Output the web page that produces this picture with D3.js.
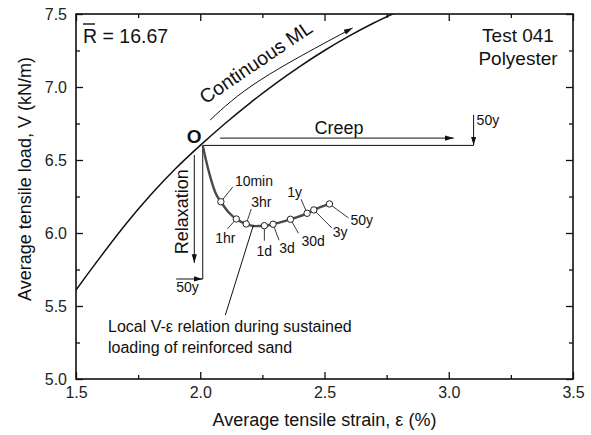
<!DOCTYPE html>
<html>
<head>
<meta charset="utf-8">
<script src="https://cdn.jsdelivr.net/npm/d3@7"></script>
<style>
body { margin: 0; background: #fff; }
svg text { font-family: "Liberation Sans", Arial, sans-serif; fill: #111; }
</style>
</head>
<body>
<svg id="chart" width="591" height="435"></svg>
<script>
// Continuous ML curve (strain %, load kN/m)
var mlStrain = [1.5, 1.6, 1.7, 1.8, 1.9, 2.0, 2.1, 2.2, 2.3, 2.4, 2.5, 2.6, 2.7, 2.8];
var mlLoad   = [5.61, 5.84, 6.06, 6.26, 6.44, 6.60, 6.75, 6.89, 7.02, 7.14, 7.25, 7.35, 7.44, 7.52];

// point O where the sustained loading starts
var startStrain = 2.01;
var startLoad = 6.60;

// local V-e relation during sustained loading
var localStrain = [2.01, 2.023, 2.040, 2.062, 2.083, 2.113, 2.145, 2.185, 2.22, 2.258, 2.293, 2.363, 2.43, 2.457, 2.52];
var localLoad   = [6.60, 6.50, 6.386, 6.272, 6.214, 6.144, 6.096, 6.062, 6.047, 6.050, 6.060, 6.094, 6.135, 6.158, 6.199];

// elapsed-time markers on the local curve
var timeLabels = ["10min", "1hr", "3hr", "1d", "3d", "30d", "1y", "3y", "50y"];
var timeStrain = [2.083, 2.145, 2.185, 2.258, 2.293, 2.363, 2.43, 2.457, 2.52];
var timeLoad   = [6.214, 6.096, 6.062, 6.050, 6.060, 6.094, 6.135, 6.158, 6.199];

// creep / relaxation limits after 50 years
var creepStrain50y = 3.10;
var relaxLoad50y = 5.685;

var xTicks = [1.5, 2.0, 2.5, 3.0, 3.5];
var xMinor = [1.75, 2.25, 2.75, 3.25];
var yTicks = [5.0, 5.5, 6.0, 6.5, 7.0, 7.5];
var yMinor = [5.25, 5.75, 6.25, 6.75, 7.25];

// where each time label sits relative to its marker (px)
var labelLayout = {
    "10min": { lead: [12, -15], text: [14, -16], anchor: "start" },
    "1hr":   { lead: [-9, 10],  text: [-11, 24], anchor: "middle" },
    "3hr":   { lead: [5, -15],  text: [5, -17],  anchor: "start" },
    "1d":    { lead: [0, 15],   text: [0, 30],   anchor: "middle" },
    "3d":    { lead: [6, 16],   text: [14, 29],  anchor: "middle" },
    "30d":   { lead: [8, 14],   text: [11, 27],  anchor: "start" },
    "1y":    { lead: [-6, -14], text: [-5, -16], anchor: "end" },
    "3y":    { lead: [18, 18],  text: [19, 27],  anchor: "start" },
    "50y":   { lead: [19, 14],  text: [21, 21],  anchor: "start" }
};

var plotLeft = 76, plotRight = 573, plotTop = 14, plotBottom = 379;

var svg = d3.select("#chart");

var x = d3.scaleLinear().domain([1.5, 3.5]).range([plotLeft, plotRight]);
var y = d3.scaleLinear().domain([5.0, 7.5]).range([plotBottom, plotTop]);

var defs = svg.append("defs");
defs.append("clipPath").attr("id", "plotClip")
    .append("rect")
    .attr("x", plotLeft).attr("y", plotTop)
    .attr("width", plotRight - plotLeft).attr("height", plotBottom - plotTop);

defs.append("marker")
    .attr("id", "arrow")
    .attr("viewBox", "0 -4 10 8")
    .attr("refX", 10).attr("refY", 0)
    .attr("markerUnits", "userSpaceOnUse")
    .attr("markerWidth", 9).attr("markerHeight", 7)
    .attr("orient", "auto")
    .append("path")
    .attr("d", "M0,-3L10,0L0,3Z")
    .attr("fill", "#111");

//Axes
function styleAxis(g) {
    g.select(".domain").remove();
    g.selectAll(".tick line").attr("stroke", "#111").attr("stroke-width", 1.3);
    g.selectAll("text").attr("font-size", 16).style("fill", "#222");
}
var fmt = d3.format(".1f");

svg.append("g").attr("transform", "translate(0," + plotBottom + ")")
    .call(d3.axisBottom(x).tickValues(xTicks).tickSize(-7).tickPadding(8).tickFormat(fmt))
    .call(styleAxis);
svg.append("g").attr("transform", "translate(0," + plotBottom + ")")
    .call(d3.axisBottom(x).tickValues(xMinor).tickSize(-4).tickFormat(""))
    .call(styleAxis);
svg.append("g").attr("transform", "translate(0," + plotTop + ")")
    .call(d3.axisTop(x).tickValues(xTicks).tickSize(-7).tickFormat(""))
    .call(styleAxis);
svg.append("g").attr("transform", "translate(0," + plotTop + ")")
    .call(d3.axisTop(x).tickValues(xMinor).tickSize(-4).tickFormat(""))
    .call(styleAxis);

svg.append("g").attr("transform", "translate(" + plotLeft + ",0)")
    .call(d3.axisLeft(y).tickValues(yTicks).tickSize(-7).tickPadding(9).tickFormat(fmt))
    .call(styleAxis);
svg.append("g").attr("transform", "translate(" + plotLeft + ",0)")
    .call(d3.axisLeft(y).tickValues(yMinor).tickSize(-4).tickFormat(""))
    .call(styleAxis);
svg.append("g").attr("transform", "translate(" + plotRight + ",0)")
    .call(d3.axisRight(y).tickValues(yTicks).tickSize(-7).tickFormat(""))
    .call(styleAxis);
svg.append("g").attr("transform", "translate(" + plotRight + ",0)")
    .call(d3.axisRight(y).tickValues(yMinor).tickSize(-4).tickFormat(""))
    .call(styleAxis);

svg.append("rect")
    .attr("x", plotLeft).attr("y", plotTop)
    .attr("width", plotRight - plotLeft).attr("height", plotBottom - plotTop)
    .attr("fill", "none").attr("stroke", "#111").attr("stroke-width", 1.6);

svg.append("text")
    .attr("x", (plotLeft + plotRight) / 2).attr("y", 426)
    .attr("text-anchor", "middle").attr("font-size", 18)
    .text("Average tensile strain, \u03b5 (%)");
svg.append("text")
    .attr("transform", "translate(31,179) rotate(-90)")
    .attr("text-anchor", "middle").attr("font-size", 18)
    .text("Average tensile load, V (kN/m)");

// Continuous ML curve
var line = d3.line()
    .x(function (d) { return x(d[0]); })
    .y(function (d) { return y(d[1]); });

svg.append("path")
    .datum(mlStrain.map(function (d, i) { return [d, mlLoad[i]]; }))
    .attr("clip-path", "url(#plotClip)")
    .attr("d", line.curve(d3.curveMonotoneX))
    .attr("fill", "none").attr("stroke", "#111").attr("stroke-width", 1.5);

// "Continuous ML" arrow running alongside the curve
svg.append("path")
    .datum([[2.04, 6.774], [2.242, 7.048], [2.613, 7.404]])
    .attr("d", d3.line().x(function (d) { return x(d[0]); }).y(function (d) { return y(d[1]); }).curve(d3.curveNatural))
    .attr("fill", "none").attr("stroke", "#111").attr("stroke-width", 1)
    .attr("marker-end", "url(#arrow)");
svg.append("text")
    .attr("transform", "translate(" + x(2.02) + "," + y(6.88) + ") rotate(-34)")
    .attr("font-size", 19.5)
    .text("Continuous ML");

// Creep: load held at O, strain grows
function seg(x1, y1, x2, y2, arrow) {
    var l = svg.append("line")
        .attr("x1", x(x1)).attr("y1", y(y1))
        .attr("x2", x(x2)).attr("y2", y(y2))
        .attr("stroke", "#111").attr("stroke-width", 1);
    if (arrow) l.attr("marker-end", "url(#arrow)");
    return l;
}

seg(startStrain, startLoad, creepStrain50y, startLoad, false);
seg(2.08, 6.65, 3.02, 6.65, true);
seg(creepStrain50y, 6.81, creepStrain50y, startLoad, true);
svg.append("text").attr("x", x(2.46)).attr("y", y(6.68))
    .attr("font-size", 18).text("Creep");
svg.append("text").attr("x", x(creepStrain50y) + 3).attr("y", y(6.74))
    .attr("font-size", 14).text("50y");

// Relaxation: strain held at O, load drops
seg(startStrain, startLoad, startStrain, relaxLoad50y, false);
seg(1.976, 6.534, 1.976, 5.795, true);
seg(1.903, relaxLoad50y, startStrain, relaxLoad50y, true);
svg.append("text")
    .attr("transform", "translate(" + (x(1.976) - 6) + "," + y(6.145) + ") rotate(-90)")
    .attr("text-anchor", "middle").attr("font-size", 18)
    .text("Relaxation");
svg.append("text").attr("x", x(1.903)).attr("y", y(relaxLoad50y) + 13)
    .attr("font-size", 14).text("50y");

svg.append("text")
    .attr("x", x(startStrain) - 16).attr("y", y(startLoad) - 2)
    .attr("font-size", 19).attr("font-weight", "bold")
    .text("O");

// local V-e curve with time markers
svg.append("path")
    .datum(localStrain.map(function (d, i) { return [d, localLoad[i]]; }))
    .attr("d", line.curve(d3.curveMonotoneX))
    .attr("fill", "none").attr("stroke", "#4a4a4a").attr("stroke-width", 2.4);

var marks = svg.append("g").selectAll("g")
    .data(timeLabels)
    .enter()
    .append("g")
    .attr("transform", function (d, i) { return "translate(" + x(timeStrain[i]) + "," + y(timeLoad[i]) + ")"; });

marks.append("line")
    .attr("x1", 0).attr("y1", 0)
    .attr("x2", function (d) { return labelLayout[d].lead[0]; })
    .attr("y2", function (d) { return labelLayout[d].lead[1]; })
    .attr("stroke", "#222").attr("stroke-width", 0.9);
marks.append("circle")
    .attr("r", 3.2)
    .attr("fill", "#fff").attr("stroke", "#222").attr("stroke-width", 1);
marks.append("text")
    .attr("x", function (d) { return labelLayout[d].text[0]; })
    .attr("y", function (d) { return labelLayout[d].text[1]; })
    .attr("text-anchor", function (d) { return labelLayout[d].anchor; })
    .attr("font-size", 14)
    .text(function (d) { return d; });

// note on the local relation
seg(2.214, 6.055, 2.101, 5.438, false);
var note = svg.append("text").attr("x", 108).attr("y", 332).attr("font-size", 16);
note.append("tspan").attr("x", 108).text("Local V-\u03b5 relation during sustained");
note.append("tspan").attr("x", 108).attr("dy", 21).text("loading of reinforced sand");

// corner texts
svg.append("text").attr("x", 83).attr("y", 43).attr("font-size", 19.5).text("R = 16.67");
svg.append("line")
    .attr("x1", 83).attr("x2", 95).attr("y1", 24).attr("y2", 24)
    .attr("stroke", "#111").attr("stroke-width", 1.4);
svg.append("text").attr("x", 518).attr("y", 42)
    .attr("text-anchor", "middle").attr("font-size", 19).text("Test 041");
svg.append("text").attr("x", 518).attr("y", 65)
    .attr("text-anchor", "middle").attr("font-size", 19).text("Polyester");
</script>
</body>
</html>
